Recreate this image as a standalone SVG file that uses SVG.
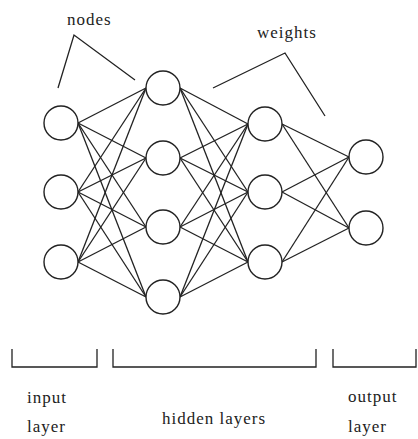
<svg xmlns="http://www.w3.org/2000/svg" width="418" height="439" viewBox="0 0 418 439">
<style>
.n{fill:#fff;stroke:#222;stroke-width:1.4}
.c line,.a polyline,.b polyline{stroke:#222;stroke-width:1.3;fill:none}
.t{font-family:'Liberation Serif','DejaVu Serif','Times New Roman',serif;font-size:17px;fill:#222;letter-spacing:1px}
</style>
<rect width="418" height="439" fill="#fff"/>
<g id="connectors" class="c">
<line x1="78" y1="123" x2="146" y2="88"/><line x1="78" y1="123" x2="146" y2="158"/><line x1="78" y1="123" x2="146" y2="227"/><line x1="78" y1="123" x2="146" y2="297"/>
<line x1="78" y1="192" x2="146" y2="88"/><line x1="78" y1="192" x2="146" y2="158"/><line x1="78" y1="192" x2="146" y2="227"/><line x1="78" y1="192" x2="146" y2="297"/>
<line x1="78" y1="262" x2="146" y2="88"/><line x1="78" y1="262" x2="146" y2="158"/><line x1="78" y1="262" x2="146" y2="227"/><line x1="78" y1="262" x2="146" y2="297"/>
<line x1="180" y1="88" x2="248" y2="124"/><line x1="180" y1="88" x2="248" y2="192"/><line x1="180" y1="88" x2="248" y2="262"/>
<line x1="180" y1="158" x2="248" y2="124"/><line x1="180" y1="158" x2="248" y2="192"/><line x1="180" y1="158" x2="248" y2="262"/>
<line x1="180" y1="227" x2="248" y2="124"/><line x1="180" y1="227" x2="248" y2="192"/><line x1="180" y1="227" x2="248" y2="262"/>
<line x1="180" y1="297" x2="248" y2="124"/><line x1="180" y1="297" x2="248" y2="192"/><line x1="180" y1="297" x2="248" y2="262"/>
<line x1="282" y1="124" x2="349" y2="157"/><line x1="282" y1="124" x2="349" y2="228"/>
<line x1="282" y1="192" x2="349" y2="157"/><line x1="282" y1="192" x2="349" y2="228"/>
<line x1="282" y1="262" x2="349" y2="157"/><line x1="282" y1="262" x2="349" y2="228"/>
</g>
<g id="input-layer">
<circle class="n" cx="61" cy="123" r="17"/><circle class="n" cx="61" cy="192" r="17"/><circle class="n" cx="61" cy="262" r="17"/>
</g>
<g id="hidden-layer-1">
<circle class="n" cx="163" cy="88" r="17"/><circle class="n" cx="163" cy="158" r="17"/><circle class="n" cx="163" cy="227" r="17"/><circle class="n" cx="163" cy="297" r="17"/>
</g>
<g id="hidden-layer-2">
<circle class="n" cx="265" cy="124" r="17"/><circle class="n" cx="265" cy="192" r="17"/><circle class="n" cx="265" cy="262" r="17"/>
</g>
<g id="output-layer">
<circle class="n" cx="366" cy="157" r="17"/><circle class="n" cx="366" cy="228" r="17"/>
</g>
<g id="annotations" class="a">
<text class="t" x="67" y="25">nodes</text>
<polyline points="58,88 74,35 135,80"/>
<text class="t" x="257" y="38">weights</text>
<polyline points="213,88 285,53 325,116"/>
</g>
<g id="brackets" class="b">
<polyline points="12,349 12,367 97,367 97,349"/>
<polyline points="113,349 113,367 316,367 316,349"/>
<polyline points="333,349 333,367 416,367 416,349"/>
</g>
<g id="labels">
<text class="t" x="27" y="403">input</text>
<text class="t" x="27" y="432">layer</text>
<text class="t" x="162" y="424">hidden layers</text>
<text class="t" x="348" y="402">output</text>
<text class="t" x="348" y="432">layer</text>
</g>
</svg>
